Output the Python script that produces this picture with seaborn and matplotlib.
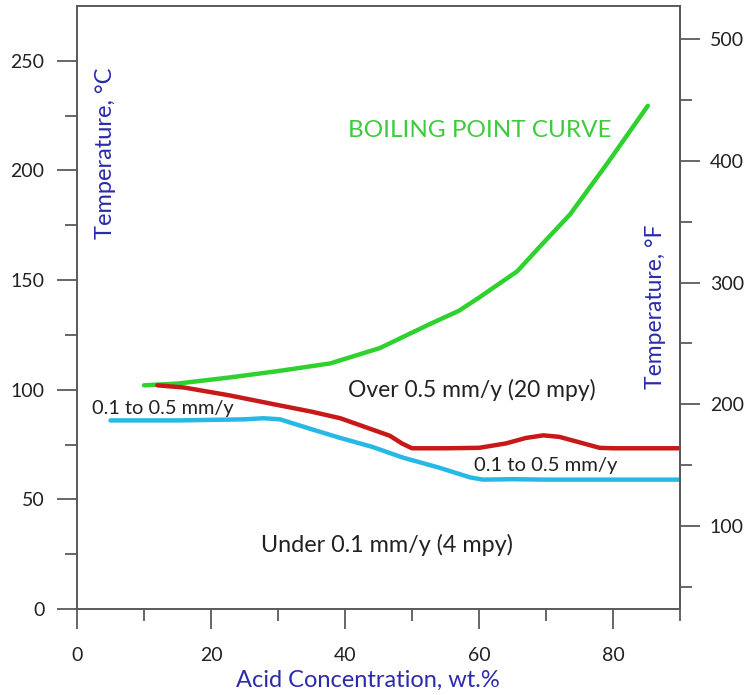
import numpy as np
import pandas as pd
import matplotlib
matplotlib.use("Agg")
import matplotlib.pyplot as plt
from matplotlib.ticker import FixedLocator
import seaborn as sns

# ---- data ----
boil_x = [10, 15, 22.8, 30, 37.8, 45.2, 52.7, 57, 60, 65.7, 69, 73.6, 79.1, 85.2]
boil_t = [102, 102.8, 105.6, 108.5, 112, 119, 130, 136, 142, 154, 165, 180, 203, 229.5]

red_x = [12, 16, 22.8, 30, 35, 39.3, 43, 46.7, 48.5, 50, 55, 60, 64, 67, 69.6, 72, 75, 78, 80, 85, 90]
red_t = [102, 101, 97.4, 93, 90, 87, 83, 79, 75.5, 73.3, 73.3, 73.5, 75.5, 78, 79.2, 78.5, 76, 73.5, 73.3, 73.3, 73.3]

cyan_x = [5, 15, 25, 27.8, 30.3, 35, 39.3, 44, 48.7, 54, 58.7, 60.6, 65, 70, 80, 90]
cyan_t = [86, 86, 86.5, 87, 86.5, 82, 78, 74, 69, 64.5, 60, 59, 59.2, 59, 59, 59]

x_major = [0, 20, 40, 60, 80]
y_major = [0, 50, 100, 150, 200, 250]
f_major = [100, 200, 300, 400, 500]

sns.set_style("ticks")
plt.rcParams['font.family'] = ['Lato', 'DejaVu Sans']

fig = plt.figure(figsize=(7.45, 6.95), dpi=100)
ax = fig.add_axes([77/745, 1-609/695, (680-77)/745, (609-6)/695])

df_b = pd.DataFrame({"x": boil_x, "t": boil_t})
df_r = pd.DataFrame({"x": red_x, "t": red_t})
df_c = pd.DataFrame({"x": cyan_x, "t": cyan_t})

sns.lineplot(data=df_b, x="x", y="t", ax=ax, color="#2fd12f", lw=3.2, sort=False)
sns.lineplot(data=df_r, x="x", y="t", ax=ax, color="#c81818", lw=3.2, sort=False)
sns.lineplot(data=df_c, x="x", y="t", ax=ax, color="#28b8e6", lw=3.2, sort=False)

ax.set_xlim(0, 90)
ax.set_ylim(0, 275)
ax.xaxis.set_major_locator(FixedLocator(x_major))
ax.xaxis.set_minor_locator(FixedLocator([10, 30, 50, 70, 90]))
ax.yaxis.set_major_locator(FixedLocator(y_major))
ax.yaxis.set_minor_locator(FixedLocator([25, 75, 125, 175, 225]))

spine_c = "#5a5a5a"
for s in ax.spines.values():
    s.set_color(spine_c)
    s.set_linewidth(1.4)

ax.tick_params(axis="both", which="major", direction="out", length=14.5, width=1.3,
               color=spine_c, labelsize=14, labelcolor="#222222", pad=9)
ax.tick_params(axis="both", which="minor", direction="out", length=8.5, width=1.3, color=spine_c)
ax.tick_params(axis="x", which="major", pad=13)

blue = "#2b2bab"
ax.set_xlabel("Acid Concentration, wt.%", fontsize=17, color=blue, labelpad=4)
ax.xaxis.set_label_coords((368 - 77) / 603, -(680 - 609) / 603, transform=None) if False else None
ax.xaxis.label.set_position(((368 - 77) / 603, 0))
ax.set_ylabel("")

c2f = lambda c: c * 9 / 5 + 32
f2c = lambda f: (f - 32) * 5 / 9
sec = ax.secondary_yaxis("right", functions=(c2f, f2c))
sec.yaxis.set_major_locator(FixedLocator(f_major))
sec.yaxis.set_minor_locator(FixedLocator([50, 150, 250, 350, 450]))
sec.tick_params(axis="y", which="major", direction="out", length=14.5, width=1.3,
                color=spine_c, labelsize=14, labelcolor="#222222", pad=7)
sec.tick_params(axis="y", which="minor", direction="out", length=8.5, width=1.3, color=spine_c)
sec.spines["right"].set_color(spine_c)
sec.spines["right"].set_linewidth(1.4)

ax.text(4.3, 208, "Temperature, °C", rotation=90, ha="center", va="center", fontsize=17, color=blue)
ax.text(86.3, 138, "Temperature, °F", rotation=90, ha="center", va="center", fontsize=16.5, color=blue)

ax.text(60.1, 218, "BOILING POINT CURVE", ha="center", va="center", fontsize=17.5, color="#3ccc3c")
ax.text(59, 100, "Over 0.5 mm/y (20 mpy)", ha="center", va="center", fontsize=16.5, color="#222222")
ax.text(2.2, 91.5, "0.1 to 0.5 mm/y", ha="left", va="center", fontsize=14.4, color="#222222")
ax.text(69.9, 65.6, "0.1 to 0.5 mm/y", ha="center", va="center", fontsize=14.6, color="#222222")
ax.text(46.3, 29, "Under 0.1 mm/y (4 mpy)", ha="center", va="center", fontsize=16.8, color="#222222")

fig.savefig("out.png", dpi=100)
